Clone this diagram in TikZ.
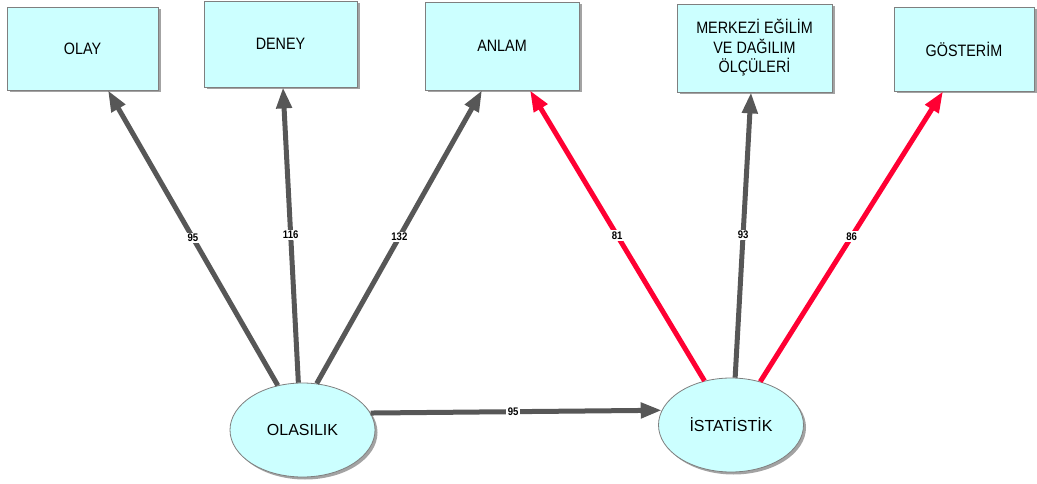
\documentclass[tikz,border=0pt]{standalone}
\usepackage{fontspec}
\setmainfont{Liberation Sans}
\newfontfamily\narrowfont{Liberation Sans}[FakeStretch=0.87]
\usetikzlibrary{arrows.meta,shadows,shapes.geometric}

\definecolor{boxfill}{HTML}{CCFFFF}
\definecolor{boxline}{HTML}{7F7F7F}
\definecolor{edgegray}{HTML}{575757}
\definecolor{edgered}{HTML}{FF0033}

\tikzset{
  topic/.style={draw=boxline, line width=0.8pt, fill=boxfill, rectangle,
    inner sep=0pt, align=center,
    font=\narrowfont\fontsize{16.5}{19.5}\selectfont,
    drop shadow={shadow xshift=2.5pt, shadow yshift=-2.5pt, fill=black!45, opacity=0.8}},
  hub/.style={draw=boxline, line width=0.8pt, fill=boxfill, ellipse,
    inner sep=0pt, minimum width=145pt, minimum height=94pt,
    font=\fontsize{16}{19}\selectfont,
    drop shadow={shadow xshift=2.5pt, shadow yshift=-2.5pt, fill=black!45, opacity=0.8}},
  link/.style={line width=5pt, draw=edgegray,
    -{Triangle[length=21pt,width=15pt]}},
  redlink/.style={link, draw=edgered},
  weight/.style={fill=white, inner sep=1.5pt, text=black,
    font=\narrowfont\bfseries\fontsize{11}{12}\selectfont}
}

\begin{document}
\begin{tikzpicture}[x=1pt, y=-1pt]
  \useasboundingbox (0,0) rectangle (1037,484);

  % concept boxes along the top
  \node[topic, minimum width=151pt, minimum height=83pt] (olay)    at (82.5,48.5) {OLAY};
  \node[topic, minimum width=153pt, minimum height=86pt] (deney)   at (280.5,44)  {DENEY};
  \node[topic, minimum width=154pt, minimum height=88pt] (anlam)   at (502,46)    {ANLAM};
  \node[topic, minimum width=155pt, minimum height=88pt] (merkezi) at (754.5,48)  {MERKEZİ EĞİLİM\\VE DAĞILIM\\ÖLÇÜLERİ};
  \node[topic, minimum width=140pt, minimum height=84pt] (goster)  at (964,49)    {GÖSTERİM};

  % the two central ellipses
  \node[hub] (olas) at (302.5,430) {OLASILIK};
  \node[hub] (ist)  at (731,425)   {İSTATİSTİK};

  % links from OLASILIK
  \draw[link] (olas.119) -- ([xshift=25.5pt]olay.south)  node[weight, midway] {95};
  \draw[link] (olas.95)  -- ([xshift=2.5pt]deney.south)  node[weight, midway] {116};
  \draw[link] (olas.73)  -- ([xshift=-20pt]anlam.south)  node[weight, midway] {132};
  \draw[link] (olas.14)  -- (ist.168)                    node[weight, pos=0.49] {95};

  % links from İSTATİSTİK
  \draw[redlink] (ist.121) -- ([xshift=28pt]anlam.south)     node[weight, midway] {81};
  \draw[link]    (ist.85)  -- ([xshift=-3.5pt]merkezi.south) node[weight, midway] {93};
  \draw[redlink] (ist.56)  -- ([xshift=-21pt]goster.south)   node[weight, midway] {86};
\end{tikzpicture}
\end{document}
